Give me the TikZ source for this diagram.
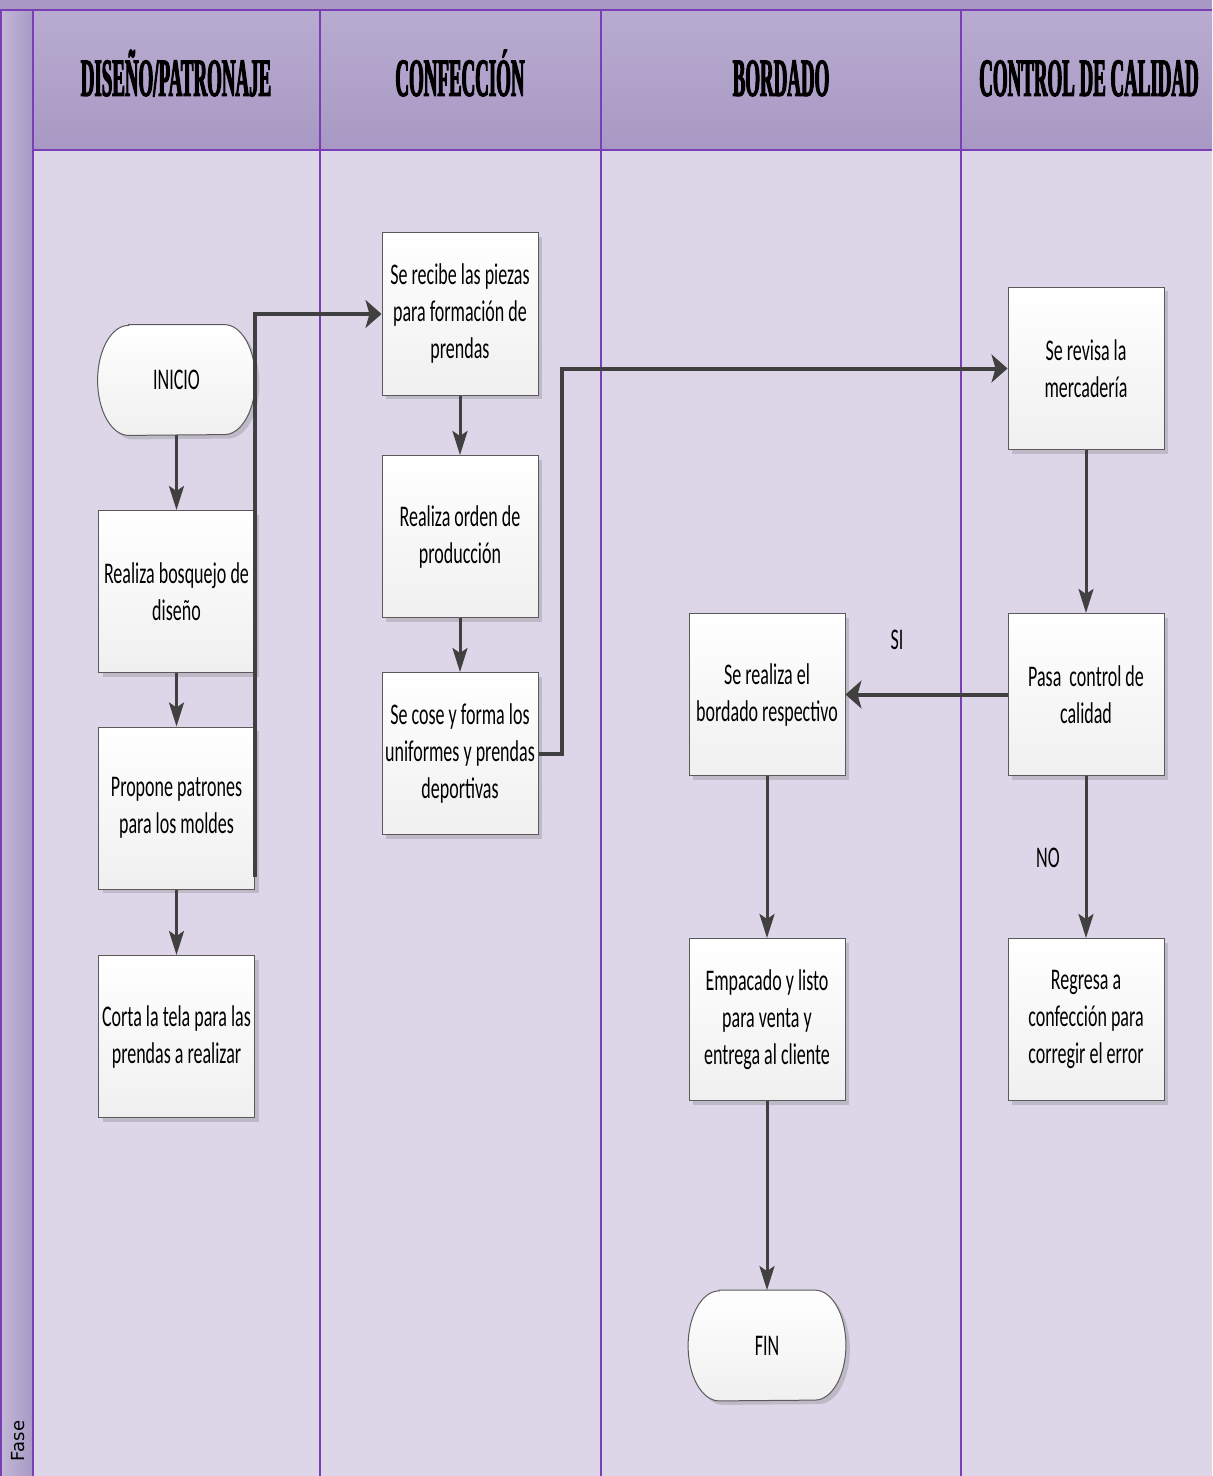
\documentclass[tikz,border=0pt]{standalone}
\usepackage{fontspec}
\setmainfont{Carlito}[FakeStretch=0.6]
\newfontfamily\headfont{Liberation Serif Bold}[FakeStretch=0.35,FakeBold=1.8]
\newfontfamily\fasefont{DejaVu Sans}
\usetikzlibrary{arrows.meta,shadows,calc}
\definecolor{lanefill}{RGB}{220,214,232}
\definecolor{headtop}{RGB}{184,171,208}
\definecolor{headbot}{RGB}{168,153,196}
\definecolor{laneline}{RGB}{123,63,181}
\definecolor{arrowc}{RGB}{64,64,64}
\definecolor{boxline}{RGB}{90,90,90}
\tikzset{
  lane/.style={draw=laneline, line width=1pt},
  headtxt/.style={font=\headfont\fontsize{27}{27}\selectfont, inner sep=0pt, anchor=base},
  txt/.style={font=\fontsize{15}{18.5}\selectfont, align=center},
  box/.style={txt, draw=boxline, line width=0.5pt, top color=white, bottom color=black!6,
    minimum width=78pt, minimum height=81pt, inner sep=1pt,
    drop shadow={shadow xshift=2pt, shadow yshift=-2pt, opacity=0.25, fill=black!60}},
  term/.style={txt, minimum width=78.5pt, minimum height=55pt, inner sep=0pt},
  termdraw/.style={draw=boxline, line width=0.5pt, top color=white, bottom color=black!6,
    drop shadow={shadow xshift=2pt, shadow yshift=-2pt, opacity=0.25, fill=black!60}},
  vline/.style={draw=arrowc, line width=1.5pt, -{Stealth[length=12pt,width=7.5pt,inset=2.5pt]}},
  hline/.style={draw=arrowc, line width=2pt, -{Stealth[length=8pt,width=14pt,inset=2pt]}},
  lbl/.style={txt, inner sep=0pt}
}
\begin{document}
\begin{tikzpicture}[x=0.5pt,y=-0.5pt]
\useasboundingbox (0,0) rectangle (1212,1476);
% background
\fill[lanefill] (0,0) rectangle (1212,1476);
\fill[headbot] (0,0) rectangle (1212,10);
\shade[top color=headtop, bottom color=headbot] (33,10) rectangle (1212,150);
\shade[left color=headtop!85!white, right color=headbot] (0,10) rectangle (33,1476);
% lane lines
\draw[lane] (0,10) -- (1212,10);
\draw[lane] (33,150) -- (1212,150);
\draw[lane] (1,10) -- (1,1476);
\draw[lane] (33,10) -- (33,1476);
\draw[lane] (320,10) -- (320,1476);
\draw[lane] (601,10) -- (601,1476);
\draw[lane] (961,10) -- (961,1476);
% headers
\node[headtxt] (h1) at (176,96) {DISEÑO/PATRONAJE};
\node[headtxt] (h2) at (460,96) {CONFECCIÓN};
\node[headtxt] (h3) at (781,96) {BORDADO};
\node[headtxt] (h4) at (1089,96) {CONTROL DE CALIDAD};
\node[rotate=90, font=\fasefont\fontsize{9}{9}\selectfont, inner sep=0pt] (fase) at (18,1441) {Fase};
% terminators
\node[term] (inicio) at (176.5,380) {};
\node[term] (fin) at (767,1345.5) {};
\draw[termdraw] ($(inicio.north west)+(31,0)$) -- ($(inicio.north east)+(-31,0)$)
  arc[start angle=90,end angle=-90,x radius=15.5pt,y radius=27.5pt]
  -- ($(inicio.south west)+(31,0)$)
  arc[start angle=270,end angle=90,x radius=15.5pt,y radius=27.5pt] -- cycle;
\draw[termdraw] ($(fin.north west)+(31,0)$) -- ($(fin.north east)+(-31,0)$)
  arc[start angle=90,end angle=-90,x radius=15.5pt,y radius=27.5pt]
  -- ($(fin.south west)+(31,0)$)
  arc[start angle=270,end angle=90,x radius=15.5pt,y radius=27.5pt] -- cycle;
\node[txt] at (inicio) {INICIO};
\node[txt] at (fin) {FIN};
% boxes
\node[box] (bosq) at (176.5,591.5) {Realiza bosquejo de\\diseño};
\node[box] (prop) at (176.5,808) {Propone patrones\\para los moldes};
\node[box] (corta) at (176.5,1036.5) {Corta la tela para las\\prendas a realizar};
\node[box] (rec) at (460,314) {Se recibe las piezas\\para formación de\\prendas};
\node[box] (orden) at (460,536.5) {Realiza orden de\\producción};
\node[box] (cose) at (460,753.5) {Se cose y forma los\\uniformes y prendas\\deportivas};
\node[box] (rev) at (1086,368.5) {Se revisa la\\mercadería};
\node[box] (pasa) at (1086,694.5) {Pasa\ \ control de\\calidad};
\node[box] (bord) at (767,694.5) {Se realiza el\\bordado respectivo};
\node[box] (emp) at (767,1019.5) {Empacado y listo\\para venta y\\entrega al cliente};
\node[box] (reg) at (1086,1019.5) {Regresa a\\confección para\\corregir el error};
% connectors
\draw[vline] (inicio.south) -- (bosq.north);
\draw[vline] (bosq.south) -- (prop.north);
\draw[vline] (prop.south) -- (corta.north);
\coordinate (c1) at (255,877);
\draw[hline] (c1) |- (rec.west);
\draw[vline] (rec.south) -- (orden.north);
\draw[vline] (orden.south) -- (cose.north);
\draw[hline] (cose.east) -- ++(23,0) |- (rev.west);
\draw[vline] (rev.south) -- (pasa.north);
\draw[hline] (pasa.west) -- (bord.east);
\draw[vline] (pasa.south) -- (reg.north);
\draw[vline] (bord.south) -- (emp.north);
\draw[vline] (emp.south) -- (fin.north);
\node[lbl] (si) at (897,640) {SI};
\node[lbl] (no) at (1048,858) {NO};
\end{tikzpicture}
\end{document}
